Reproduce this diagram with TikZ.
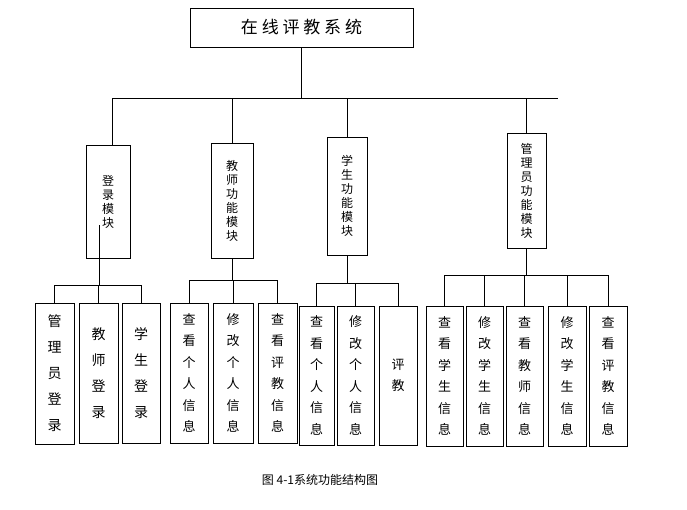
\documentclass[tikz,border=0pt]{standalone}
\usepackage{fontspec}
\setmainfont{Noto Sans CJK SC}
\begin{document}
\begin{tikzpicture}[x=1pt,y=-1pt,line width=0.7pt,
  bx/.style={draw,align=center,inner sep=0pt},
  leaf/.style={bx,font=\fontsize{14}{26}\selectfont},
  leafs/.style={bx,font=\fontsize{13}{21.5}\selectfont},
  mod/.style={bx,font=\fontsize{12}{14}\selectfont}]
\useasboundingbox (0,0) rectangle (687,509);
\node[bx,minimum width=223,minimum height=39,font=\fontsize{17}{20}\selectfont] (top) at (301.5,27.5) {在\ 线\ 评\ 教\ 系\ 统};
% modules
\node[mod,minimum width=44,minimum height=113] (m1) at (108,201.5) {登\\录\\模\\块};
\node[mod,minimum width=42,minimum height=115] (m2) at (232,200.5) {教\\师\\功\\能\\模\\块};
\node[mod,minimum width=40,minimum height=118] (m3) at (347,196) {学\\生\\功\\能\\模\\块};
\node[mod,minimum width=39,minimum height=115] (m4) at (526.5,190.5) {管\\理\\员\\功\\能\\模\\块};
\coordinate (b0) at (301.5,98);
\draw (top.south) -- (b0);
\draw (112,98) -- (558,98);
\draw (112,98) -- (112,145);
\draw (m2.north) -- (232,98);
\draw (m3.north) -- (347,98);
\draw (m4.north) -- (526.5,98);
% leaves group 1
\node[leaf,minimum width=39,minimum height=141] (a1) at (54.5,373.5) {管\\理\\员\\登\\录};
\node[leaf,minimum width=39,minimum height=140] (a2) at (98.5,373) {教\\师\\登\\录};
\node[leaf,minimum width=38,minimum height=140] (a3) at (141,373) {学\\生\\登\\录};
\draw (99,225) -- (99,285);
\draw (54.5,285) -- (141,285);
\foreach \n in {a1,a2,a3} \draw (\n.north) -- (\n.north |- 0,285);
% group 2
\node[leafs,minimum width=38,minimum height=140] (b1) at (189,373) {查\\看\\个\\人\\信\\息};
\node[leafs,minimum width=40,minimum height=140] (b2) at (233,373) {修\\改\\个\\人\\信\\息};
\node[leafs,minimum width=39,minimum height=140] (b3) at (277.5,373) {查\\看\\评\\教\\信\\息};
\draw (m2.south) -- (232,280);
\draw (189,280) -- (277.5,280);
\foreach \n in {b1,b2,b3} \draw (\n.north) -- (\n.north |- 0,280);
% group 3
\node[leafs,minimum width=35,minimum height=139] (c1) at (316.5,375.5) {查\\看\\个\\人\\信\\息};
\node[leafs,minimum width=37,minimum height=139] (c2) at (355.5,375.5) {修\\改\\个\\人\\信\\息};
\node[leafs,minimum width=38,minimum height=139] (c3) at (398,375.5) {评\\教};
\draw (m3.south) -- (347,283);
\draw (316.5,283) -- (398,283);
\foreach \n in {c1,c2,c3} \draw (\n.north) -- (\n.north |- 0,283);
% group 4
\node[leafs,minimum width=37,minimum height=140] (d1) at (444.5,376) {查\\看\\学\\生\\信\\息};
\node[leafs,minimum width=37,minimum height=140] (d2) at (484.5,376) {修\\改\\学\\生\\信\\息};
\node[leafs,minimum width=37,minimum height=140] (d3) at (524.5,376) {查\\看\\教\\师\\信\\息};
\node[leafs,minimum width=38,minimum height=140] (d4) at (567,376) {修\\改\\学\\生\\信\\息};
\node[leafs,minimum width=38,minimum height=140] (d5) at (608,376) {查\\看\\评\\教\\信\\息};
\draw (m4.south) -- (526.5,275);
\draw (444.5,275) -- (608,275);
\foreach \n in {d1,d2,d3,d4,d5} \draw (\n.north) -- (\n.north |- 0,275);
\node[font=\fontsize{12}{14}\selectfont] (cap) at (320,480) {图 4-1系统功能结构图};
\end{tikzpicture}
\end{document}
